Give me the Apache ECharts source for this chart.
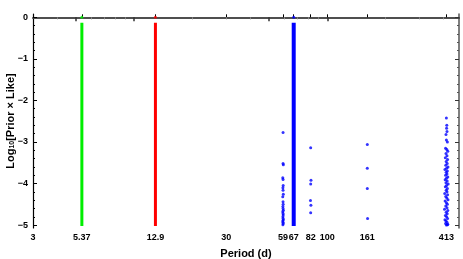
<!DOCTYPE html>
<html>
<head>
<meta charset="utf-8">
<script src="https://cdn.jsdelivr.net/npm/echarts@6/dist/echarts.min.js"></script>
<style>html,body{margin:0;padding:0;background:#fff;}#c{width:463px;height:259px;}</style>
</head>
<body>
<div id="c"></div>
<script>
// ---- data ----
const xTickLabels = [3, 5.37, 12.9, 30, 59, 67, 82, 100, 161, 413];
const topMajorTicks = [5, 10, 50, 100];
const topMinorTicks = [4, 6, 7, 8, 9, 20, 30, 40, 60, 70, 80, 90, 200, 300, 400];
const yTickLabels = [-5, -4, -3, -2, -1, 0];
const yMinorTicks = [-4.8,-4.6,-4.4,-4.2,-3.8,-3.6,-3.4,-3.2,-2.8,-2.6,-2.4,-2.2,-1.8,-1.6,-1.4,-1.2,-0.8,-0.6,-0.4,-0.2];

// dense posterior columns: period, top of column, bottom of column, isolated peak value
const greenBand = {period: 5.37, top: -0.13, bottom: -5.02, peak: 0};
const redBand   = {period: 12.9, top: -0.13, bottom: -5.02, peak: 0};
const blueBand  = {period: 67,   top: -0.13, bottom: -5.02, peak: 0};

// scattered blue samples
const bluePeriods = [
  59,59,59.2,58.8,59,59.1,58.9,59,59.2,58.8,59,59.1,58.9,59,59.2,58.8,59,59.1,58.9,59,59.2,58.8,59,59.1,58.9,
  82,82.3,82,81.8,82.2,82,
  161,161,161,161.5,
  413,415,414,416,411,413,418,409,415,420,411,416,408,419,412,417,410,421,414,406,418,412,416,409,420,413,407,417,411,422,
  414,408,418,412,416,405,419,410,415,421,407,413,418,410,416,404,420,412,417,408,414,419,406,411,416,409,420,413,418
];
const blueLogL = [
  -2.77,-3.52,-3.55,-3.86,-3.90,-4.05,-4.10,-4.16,-4.26,-4.32,-4.44,-4.50,-4.55,-4.60,-4.64,-4.68,-4.72,-4.76,-4.80,-4.84,-4.87,-4.90,-4.93,-4.96,-4.99,
  -3.14,-3.92,-4.01,-4.41,-4.52,-4.70,
  -3.06,-3.63,-4.12,-4.84,
  -2.42,-2.60,-2.67,-2.75,-2.82,-2.95,-3.00,-3.15,-3.18,-3.22,-3.28,-3.33,-3.38,-3.42,-3.47,-3.52,-3.56,-3.60,-3.63,-3.66,-3.70,-3.73,-3.77,-3.80,-3.84,-3.87,-3.91,-3.94,-3.98,-4.01,
  -4.05,-4.08,-4.12,-4.16,-4.20,-4.24,-4.27,-4.31,-4.35,-4.39,-4.42,-4.46,-4.50,-4.54,-4.58,-4.62,-4.65,-4.69,-4.73,-4.77,-4.80,-4.84,-4.87,-4.90,-4.93,-4.96,-4.98,-5.00,-4.99
];

// ---- chart ----
const chart = echarts.init(document.getElementById('c'), null, {renderer: 'canvas'});
const FONT = 'Liberation Sans';
const XMIN = 3, XMAX = 480, YMIN = -5.07, YMAX = 0.08;

function fmtX(v) {
  let best = xTickLabels[0];
  for (const t of xTickLabels) if (Math.abs(Math.log(t) - Math.log(v)) < Math.abs(Math.log(best) - Math.log(v))) best = t;
  return String(best);
}
function fmtY(v) {
  const r = Math.round(v);
  return r < 0 ? '\u2212' + Math.abs(r) : String(r);
}

function bandSeries(b, color, width) {
  return [{
    type: 'line', xAxisIndex: 0, yAxisIndex: 0, silent: true, symbol: 'none',
    lineStyle: {color: color, width: width, cap: 'butt'},
    data: [[b.period, b.top], [b.period, b.bottom]]
  }, {
    type: 'scatter', xAxisIndex: 0, yAxisIndex: 0, silent: true,
    symbolSize: 3, itemStyle: {color: color},
    data: [[b.period, b.peak]]
  }];
}

const baseLog = {type: 'log', logBase: 10, min: XMIN, max: XMAX, splitLine: {show: false}};
const baseVal = {type: 'value', min: YMIN, max: YMAX, splitLine: {show: false}};

const option = {
  animation: false,
  backgroundColor: '#fff',
  grid: {left: 33, right: 4, top: 14, bottom: 31, containLabel: false, outerBoundsMode: 'none'},
  xAxis: [
    Object.assign({}, baseLog, {
      position: 'bottom',
      axisLine: {lineStyle: {color: '#000', width: 1.5}},
      axisTick: {inside: true, length: 3, customValues: xTickLabels, lineStyle: {color: '#000'}},
      axisLabel: {customValues: xTickLabels, formatter: fmtX, fontSize: 9, fontWeight: 'bold', color: '#000', fontFamily: FONT, margin: 5, hideOverlap: false},
      name: 'Period (d)', nameLocation: 'middle', nameGap: 20, nameMoveOverlap: false,
      nameTextStyle: {fontSize: 11, fontWeight: 'bold', color: '#000', fontFamily: FONT}
    }),
    Object.assign({}, baseLog, {
      position: 'top',
      axisLine: {lineStyle: {color: '#555', width: 1.5}},
      axisTick: {inside: true, length: 4, customValues: topMajorTicks, lineStyle: {color: '#333', width: 1.5}},
      axisLabel: {show: false}
    }),
    Object.assign({}, baseLog, {
      position: 'top',
      axisLine: {show: false},
      axisTick: {inside: true, length: 2, customValues: topMinorTicks, lineStyle: {color: '#888'}},
      axisLabel: {show: false}
    })
  ],
  yAxis: [
    Object.assign({}, baseVal, {
      position: 'left',
      axisLine: {show: true, lineStyle: {color: '#000', width: 1.2}},
      axisTick: {show: true, inside: true, length: 4, customValues: yTickLabels, lineStyle: {color: '#000'}},
      axisLabel: {customValues: yTickLabels, formatter: fmtY, fontSize: 9, fontWeight: 'bold', color: '#000', fontFamily: FONT, margin: 5},
      name: '{a|Log}{s|10}{a|[Prior \u00d7 Like]}', nameLocation: 'middle', nameGap: 17, nameRotate: 90, nameMoveOverlap: false,
      nameTextStyle: {
        color: '#000', fontFamily: FONT,
        rich: {
          a: {fontSize: 11, fontWeight: 'bold', color: '#000', fontFamily: FONT, verticalAlign: 'bottom', lineHeight: 14},
          s: {fontSize: 7, fontWeight: 'bold', color: '#000', fontFamily: FONT, verticalAlign: 'bottom', lineHeight: 10}
        }
      }
    }),
    Object.assign({}, baseVal, {
      position: 'left',
      axisLine: {show: false},
      axisTick: {show: true, inside: true, length: 2, customValues: yMinorTicks, lineStyle: {color: '#000'}},
      axisLabel: {show: false}
    }),
    Object.assign({}, baseVal, {
      position: 'right',
      axisLine: {show: true, lineStyle: {color: '#555', width: 1.5}},
      axisTick: {show: true, inside: true, length: 4, customValues: yTickLabels, lineStyle: {color: '#333'}},
      axisLabel: {show: false}
    }),
    Object.assign({}, baseVal, {
      position: 'right',
      axisLine: {show: false},
      axisTick: {show: true, inside: true, length: 2, customValues: yMinorTicks, lineStyle: {color: '#555'}},
      axisLabel: {show: false}
    })
  ],
  series: [
    ...bandSeries(greenBand, '#00ee00', 3),
    ...bandSeries(redBand, '#ff0000', 3),
    ...bandSeries(blueBand, '#0000ff', 4),
    {
      type: 'scatter', xAxisIndex: 0, yAxisIndex: 0, silent: true,
      symbolSize: 3, itemStyle: {color: '#0000ff'},
      data: bluePeriods.map((p, i) => [p, blueLogL[i]])
    }
  ]
};
chart.setOption(option);
</script>
</body>
</html>
